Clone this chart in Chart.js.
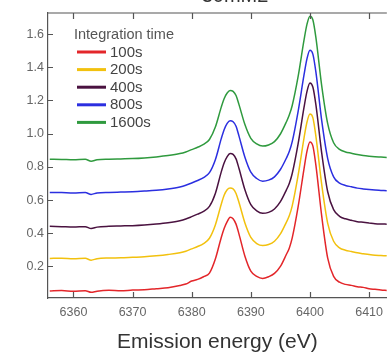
<!DOCTYPE html>
<html>
<head>
<meta charset="utf-8">
<script src="https://cdn.jsdelivr.net/npm/chart.js@4.4.0/dist/chart.umd.min.js"></script>
<style>
  html, body { margin: 0; padding: 0; background: #fff; }
  #wrap { width: 390px; height: 353px; position: relative; overflow: hidden; }
</style>
</head>
<body>
<div id="wrap"><canvas id="chart" width="390" height="353"></canvas></div>
<script>
// emission energy (eV)
const energy = [6356,6358,6360,6362,6363,6364,6366,6368,6370,6372,6374,6376,6378,6379,6380,6381,6382,6383,6384,6385,6385.5,6386,6386.5,6387,6387.5,6388,6389,6390,6391,6392,6393,6394,6395,6396,6396.5,6397,6398,6399,6399.5,6400,6400.5,6401,6402,6403,6404,6405,6406,6407,6408,6409,6410,6411,6412,6413];

// intensity, each spectrum offset by the plot
const s100 = [0.052,0.055,0.050,0.054,0.044,0.051,0.056,0.053,0.058,0.060,0.066,0.072,0.085,0.094,0.112,0.122,0.138,0.160,0.245,0.375,0.430,0.470,0.497,0.488,0.455,0.395,0.262,0.172,0.140,0.128,0.138,0.158,0.200,0.272,0.310,0.372,0.560,0.790,0.895,0.950,0.925,0.810,0.500,0.250,0.140,0.105,0.092,0.086,0.078,0.074,0.066,0.062,0.058,0.055];
const s200 = [0.248,0.250,0.246,0.249,0.238,0.247,0.251,0.252,0.255,0.258,0.264,0.272,0.283,0.292,0.306,0.320,0.338,0.370,0.450,0.575,0.630,0.662,0.672,0.668,0.640,0.585,0.462,0.375,0.338,0.326,0.332,0.352,0.396,0.466,0.505,0.565,0.750,0.975,1.070,1.118,1.095,0.985,0.690,0.460,0.352,0.312,0.298,0.290,0.282,0.277,0.272,0.268,0.266,0.264];
const s400 = [0.442,0.440,0.438,0.440,0.428,0.437,0.442,0.444,0.446,0.450,0.456,0.464,0.476,0.486,0.500,0.515,0.532,0.562,0.640,0.770,0.825,0.862,0.880,0.875,0.848,0.790,0.662,0.572,0.535,0.520,0.526,0.546,0.590,0.660,0.700,0.760,0.940,1.160,1.255,1.305,1.280,1.175,0.880,0.650,0.542,0.502,0.487,0.478,0.470,0.466,0.462,0.458,0.456,0.455];
const s800 = [0.646,0.645,0.643,0.645,0.634,0.643,0.646,0.648,0.650,0.654,0.659,0.667,0.679,0.689,0.703,0.718,0.735,0.765,0.843,0.970,1.025,1.062,1.078,1.072,1.045,0.985,0.858,0.768,0.730,0.714,0.720,0.740,0.784,0.852,0.892,0.952,1.135,1.355,1.452,1.502,1.478,1.372,1.075,0.850,0.740,0.702,0.688,0.680,0.672,0.667,0.663,0.660,0.658,0.656];
const s1600 = [0.846,0.845,0.843,0.846,0.834,0.843,0.846,0.848,0.850,0.854,0.860,0.868,0.880,0.890,0.904,0.918,0.935,0.965,1.040,1.160,1.212,1.245,1.260,1.255,1.230,1.175,1.055,0.972,0.938,0.925,0.932,0.952,0.998,1.070,1.112,1.170,1.345,1.565,1.660,1.708,1.685,1.580,1.285,1.060,0.945,0.905,0.890,0.882,0.874,0.868,0.864,0.861,0.859,0.857];

const seriesLabels = ['100s', '200s', '400s', '800s', '1600s'];
const seriesColors = ['#e3262a', '#f2c10e', '#4a1240', '#2b2fe0', '#2f9a3e'];
const xTicks = [6360, 6370, 6380, 6390, 6400, 6410];
const yTicks = [0.2, 0.4, 0.6, 0.8, 1.0, 1.2, 1.4, 1.6];

const allSeries = [s100, s200, s400, s800, s1600];
const datasets = allSeries.map((vals, i) => ({
  label: seriesLabels[i],
  data: vals.map((v, j) => ({ x: energy[j], y: v })),
  borderColor: seriesColors[i],
  backgroundColor: seriesColors[i],
  borderWidth: 1.5,
  pointRadius: 0,
  cubicInterpolationMode: 'monotone',
}));

// inward ticks, top frame, title and legend inside the plot
const framePlugin = {
  id: 'frame',
  afterDraw(chart) {
    const ctx = chart.ctx;
    const a = chart.chartArea;
    const xs = chart.scales.x, ys = chart.scales.y;
    ctx.save();
    ctx.strokeStyle = '#555';
    ctx.lineWidth = 1.2;
    ctx.beginPath();
    ctx.moveTo(a.left, a.top); ctx.lineTo(a.right, a.top);
    xTicks.forEach(t => {
      const px = Math.round(xs.getPixelForValue(t)) + 0.5;
      ctx.moveTo(px, a.bottom); ctx.lineTo(px, a.bottom - 6);
      ctx.moveTo(px, a.top); ctx.lineTo(px, a.top + 6);
    });
    yTicks.forEach(t => {
      const py = Math.round(ys.getPixelForValue(t)) + 0.5;
      ctx.moveTo(a.left, py); ctx.lineTo(a.left + 5, py);
    });
    ctx.stroke();

    // plot title, mostly above the visible area
    ctx.fillStyle = '#333';
    ctx.font = '20px "Liberation Sans", Arial, sans-serif';
    ctx.textAlign = 'center';
    ctx.textBaseline = 'alphabetic';
    ctx.fillText('30mM2', 235, 2);

    // legend
    ctx.textAlign = 'left';
    ctx.textBaseline = 'middle';
    ctx.fillStyle = '#555';
    ctx.font = '14.5px "Liberation Sans", Arial, sans-serif';
    ctx.fillText('Integration time', 74, 35);
    ctx.font = '15px "Liberation Sans", Arial, sans-serif';
    chart.data.datasets.forEach((ds, i) => {
      const y = 52 + i * 17.6;
      ctx.strokeStyle = ds.borderColor;
      ctx.lineWidth = 3;
      ctx.beginPath();
      ctx.moveTo(77, y); ctx.lineTo(106, y);
      ctx.stroke();
      ctx.fillStyle = '#444';
      ctx.fillText(ds.label, 110, y + 0.5);
    });
    ctx.restore();
  }
};

new Chart(document.getElementById('chart'), {
  type: 'line',
  data: { datasets },
  options: {
    responsive: false,
    animation: false,
    layout: { padding: { top: 13, right: 0, left: 0, bottom: 0 } },
    plugins: { legend: { display: false }, tooltip: { enabled: false } },
    scales: {
      x: {
        type: 'linear',
        min: 6355.7,
        max: 6413.0,
        afterFit: (scale) => { scale.height = 55; },
        grid: { display: false, drawTicks: false },
        border: { display: true, color: '#555', width: 1.2 },
        ticks: {
          stepSize: 10,
          includeBounds: false,
          maxRotation: 0,
          padding: 7,
          color: '#666',
          font: { family: '"Liberation Sans", Arial, sans-serif', size: 12.5 },
          callback: (v) => String(v),
        },
        title: {
          display: true,
          text: 'Emission energy (eV)',
          color: '#333',
          padding: { top: 0, bottom: 0 },
          font: { family: '"Liberation Sans", Arial, sans-serif', size: 21, lineHeight: 1.0 },
        },
      },
      y: {
        min: 0.01,
        max: 1.727,
        afterFit: (scale) => { scale.width = 48; },
        grid: { display: false, drawTicks: false },
        border: { display: true, color: '#555', width: 1.2 },
        ticks: {
          stepSize: 0.2,
          includeBounds: false,
          padding: 4,
          color: '#666',
          font: { family: '"Liberation Sans", Arial, sans-serif', size: 12.5 },
          callback: (v) => v.toFixed(1),
        },
      },
    },
  },
  plugins: [framePlugin],
});
</script>
</body>
</html>
